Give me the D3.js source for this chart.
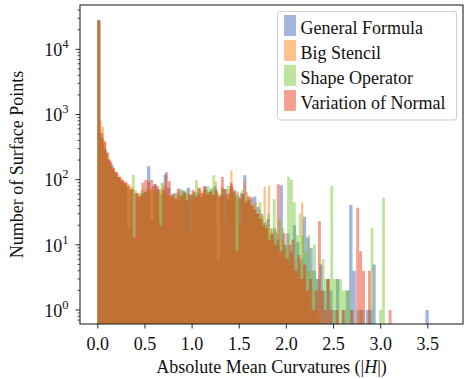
<!DOCTYPE html>
<html>
<head>
<meta charset="utf-8">
<script src="https://cdn.jsdelivr.net/npm/d3@7"></script>
<style>
  html, body { margin: 0; padding: 0; background: #fff; }
  svg { display: block; }
</style>
</head>
<body>
<svg id="chart" width="466" height="379"></svg>
<script>
// Histogram counts per method, 100 equal-width bins from 0 to each method's maximum |H|
const seriesNames = ["General Formula", "Big Stencil", "Shape Operator", "Variation of Normal"];
const seriesMax = [3.515, 2.35, 3.05, 3.12];

const generalFormula = [
  28000, 430, 290, 200, 165, 130, 110, 95, 88, 19,
  70, 62, 55, 62, 66, 160, 24, 85, 72, 60,
  120, 75, 55, 62, 48, 70, 62, 75, 58, 65,
  60, 54, 78, 65, 70, 80, 6, 60, 72, 50,
  80, 68, 55, 62, 117, 48, 52, 55, 38, 30,
  22, 25, 14, 18, 12, 82, 10, 15, 8, 20,
  11, 6, 27, 13, 9, 4, 3, 5, 2, 3,
  2, 1, 3, 0, 1, 2, 41, 4, 0, 1,
  0, 1, 1, 5, 0, 0, 0, 0, 0, 0,
  0, 0, 0, 0, 0, 0, 0, 0, 0, 1
];
const bigStencil = [
  28000, 800, 650, 400, 260, 210, 175, 150, 135, 120,
  110, 100, 95, 90, 85, 78, 72, 68, 62, 60,
  58, 62, 66, 70, 75, 68, 72, 65, 70, 88,
  80, 60, 55, 58, 62, 50, 65, 60, 55, 68,
  60, 58, 15, 65, 55, 62, 75, 68, 60, 72,
  65, 58, 70, 95, 62, 55, 78, 22, 60, 70,
  140, 75, 58, 65, 20, 60, 95, 65, 48, 55,
  40, 45, 30, 35, 25, 78, 20, 82, 18, 12,
  16, 10, 8, 12, 6, 9, 5, 7, 4, 6,
  3, 5, 45, 3, 2, 4, 1, 2, 1, 1
];
const shapeOperator = [
  28000, 450, 300, 210, 165, 135, 115, 100, 92, 85,
  80, 70, 118, 11, 60, 70, 62, 75, 65, 80,
  70, 60, 90, 62, 55, 18, 60, 55, 74, 60,
  65, 70, 55, 62, 98, 72, 60, 68, 80, 75,
  117, 65, 58, 72, 60, 80, 66, 55, 62, 50,
  70, 48, 55, 40, 35, 30, 45, 28, 20, 30,
  18, 50, 15, 25, 18, 10, 110, 100, 45, 14,
  30, 14, 8, 14, 4, 10, 3, 2, 6, 3,
  3, 80, 3, 3, 3, 2, 2, 2, 1, 0,
  1, 0, 1, 0, 0, 18, 0, 0, 1, 53
];
const variationOfNormal = [
  28000, 520, 380, 260, 190, 150, 130, 110, 100, 90,
  80, 72, 13, 62, 55, 90, 100, 95, 100, 85,
  80, 20, 70, 130, 95, 60, 50, 72, 55, 65,
  48, 60, 70, 55, 75, 62, 80, 60, 65, 58,
  70, 55, 110, 72, 60, 90, 65, 8, 52, 60,
  45, 55, 40, 35, 30, 25, 20, 18, 12, 15,
  10, 85, 8, 15, 6, 10, 12, 4, 7, 3,
  5, 2, 3, 1, 2, 23, 2, 1, 3, 1,
  0, 1, 0, 1, 0, 0, 1, 0, 37, 8,
  4, 0, 4, 0, 0, 0, 0, 0, 0, 1
];
const seriesCounts = [generalFormula, bigStencil, shapeOperator, variationOfNormal];
const seriesColors = ["#325ab1", "#fa7500", "#6cc52c", "#e62c0b"];
const barOpacity = 0.45;

const xTicks = [0.0, 0.5, 1.0, 1.5, 2.0, 2.5, 3.0, 3.5];
const yTicks = [1, 10, 100, 1000, 10000];
const xLabel = "Absolute Mean Curvatures (";
const yLabel = "Number of Surface Points";

// Layout
const W = 466, H = 379;
const padL = 80, padR = 463, padT = 5, padB = 324;
const FONT = "'Liberation Serif', 'DejaVu Serif', serif";
const FS = 18;

const svg = d3.select("#chart").attr("font-family", FONT);
svg.append("rect").attr("width", W).attr("height", H).attr("fill", "#fff");

const x = d3.scaleLinear().domain([-0.1835, 3.878]).range([padL, padR]);
const y = d3.scaleLog().domain([0.61, 47900]).range([padB, padT]);

svg.append("clipPath").attr("id", "plotclip")
  .append("rect").attr("x", padL).attr("y", padT).attr("width", padR - padL).attr("height", padB - padT);

const plot = svg.append("g").attr("clip-path", "url(#plotclip)");

// One step outline per series so adjacent bins do not leave seams
seriesCounts.forEach((counts, s) => {
  const n = counts.length;
  const w = seriesMax[s] / n;
  const yv = c => (c > 0 ? y(c) : padB);
  let d = `M${x(0)},${padB}`;
  counts.forEach((c, i) => {
    const x0 = x(i * w), x1 = x((i + 1) * w);
    d += `L${x0},${yv(c)}L${x1},${yv(c)}`;
  });
  d += `L${x(seriesMax[s])},${padB}Z`;
  plot.append("path").attr("d", d)
    .attr("fill", seriesColors[s]).attr("fill-opacity", barOpacity).attr("stroke", "none");
});

// Axes
const axisColor = "#262626";
const xAxis = d3.axisBottom(x).tickValues(xTicks).tickFormat(d3.format(".1f")).tickSize(4.5).tickPadding(4);
const gx = svg.append("g").attr("transform", `translate(0,${padB})`).call(xAxis)
  .attr("font-family", FONT).attr("font-size", FS);
gx.select(".domain").remove();
gx.selectAll("line").attr("stroke", axisColor).attr("stroke-width", 1);
gx.selectAll("text").attr("fill", "#111").attr("dy", null).attr("y", 25.5);

const gy = svg.append("g").attr("transform", `translate(${padL},0)`);
const minor = [];
for (let e = -1; e <= 4; e++) for (let m = 2; m <= 9; m++) {
  const v = m * Math.pow(10, e);
  if (v >= y.domain()[0] && v <= y.domain()[1]) minor.push(v);
}
gy.selectAll(".minor").data(minor).join("line")
  .attr("x1", 0).attr("x2", -2.5).attr("y1", d => y(d)).attr("y2", d => y(d))
  .attr("stroke", axisColor).attr("stroke-width", 0.8);
gy.selectAll(".major").data(yTicks).join("line")
  .attr("x1", 0).attr("x2", -4.5).attr("y1", d => y(d)).attr("y2", d => y(d))
  .attr("stroke", axisColor).attr("stroke-width", 1);
const yl = gy.selectAll(".ylab").data(yTicks).join("text")
  .attr("x", -11.5).attr("y", d => y(d) + 6.8).attr("text-anchor", "end")
  .attr("font-size", FS).attr("fill", "#111");
yl.append("tspan").text("10");
yl.append("tspan").attr("dy", -8).attr("font-size", 12.5).text(d => Math.round(Math.log10(d)));

// Frame
svg.append("rect").attr("x", padL).attr("y", padT).attr("width", padR - padL).attr("height", padB - padT)
  .attr("fill", "none").attr("stroke", axisColor).attr("stroke-width", 1.1);

// Axis labels
const xl = svg.append("text").attr("x", (padL + padR) / 2).attr("y", 372.5)
  .attr("text-anchor", "middle").attr("font-size", FS).attr("fill", "#111");
xl.append("tspan").text(xLabel + "|");
xl.append("tspan").attr("font-style", "italic").text("H");
xl.append("tspan").text("|)");

svg.append("text").attr("transform", `translate(23.3,${(padT + padB) / 2}) rotate(-90)`)
  .attr("text-anchor", "middle").attr("font-size", FS).attr("fill", "#111").text(yLabel);

// Legend
const lg = svg.append("g");
lg.append("rect").attr("x", 277.5).attr("y", 11.5).attr("width", 179).attr("height", 108.5)
  .attr("rx", 2.5).attr("fill", "#fff").attr("fill-opacity", 0.8).attr("stroke", "#d0d0d0").attr("stroke-width", 1);
seriesNames.forEach((name, i) => {
  lg.append("rect").attr("x", 284.5).attr("y", 15.5 + 25 * i).attr("width", 11).attr("height", 20)
    .attr("fill", seriesColors[i]).attr("fill-opacity", barOpacity)
    .attr("stroke", seriesColors[i]).attr("stroke-opacity", barOpacity).attr("stroke-width", 0.6);
  lg.append("text").attr("x", 300.5).attr("y", 33.5 + 25 * i).attr("font-size", FS)
    .attr("fill", "#111").text(name);
});
</script>
</body>
</html>
